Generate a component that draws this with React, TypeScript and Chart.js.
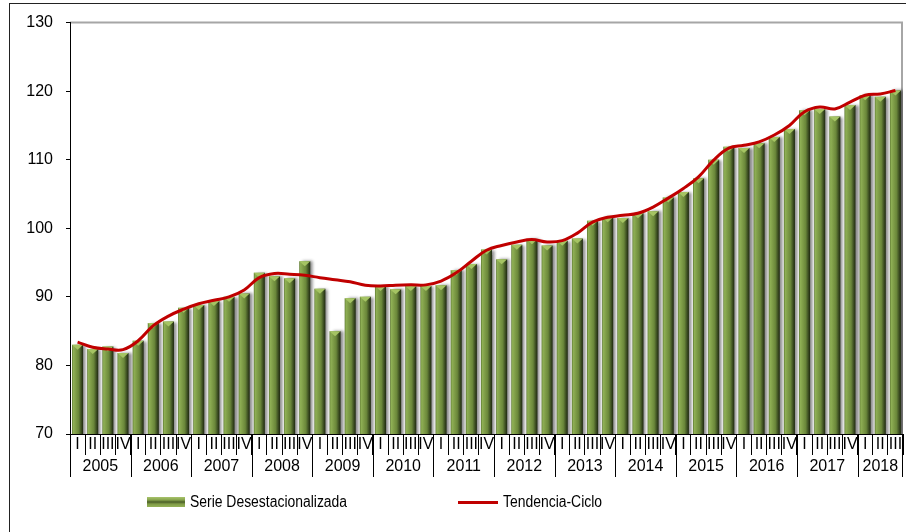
import React, { useEffect, useRef } from "react";
import { Chart, registerables } from "chart.js";

Chart.register(...registerables);

// ---- data ----
const years = ["2005", "2006", "2007", "2008", "2009", "2010", "2011", "2012", "2013", "2014", "2015", "2016", "2017", "2018"];
const quartersPerYear = [4, 4, 4, 4, 4, 4, 4, 4, 4, 4, 4, 4, 4, 3];
const quarterNames = ["I", "II", "III", "IV"];

const serieDesestacionalizada = [
  83.0, 82.4, 82.75, 81.8,
  83.6, 86.2, 86.4, 88.4,
  88.8, 89.4, 90.0, 90.5,
  93.5, 93.0, 92.7, 95.2,
  91.2, 85.0, 89.8, 90.0,
  91.6, 91.1, 91.6, 91.6,
  91.7, 93.9, 94.8, 96.9,
  95.5, 97.6, 98.4, 97.5,
  98.2, 98.5, 101.1, 101.6,
  101.5, 102.2, 102.5, 104.5,
  105.3, 107.3, 110.0, 111.9,
  111.7, 112.4, 113.3, 114.5,
  117.2, 117.4, 116.3, 118.0,
  119.4, 119.2, 120.1,
];

const tendenciaCiclo = [
  83.4, 82.65, 82.4, 82.3,
  83.6, 85.8, 87.2, 88.2,
  89.0, 89.5, 90.0, 91.0,
  92.8, 93.4, 93.3, 93.15,
  92.8, 92.5, 92.2, 91.7,
  91.6, 91.7, 91.75, 91.75,
  92.3, 93.5, 95.2, 96.8,
  97.5, 98.0, 98.35, 98.0,
  98.2, 99.3, 100.9, 101.6,
  101.9, 102.2, 103.1, 104.4,
  105.8, 107.5, 109.95, 111.7,
  112.1, 112.6, 113.6, 115.0,
  117.0, 117.7, 117.4, 118.4,
  119.4, 119.6, 120.1,
];

const yTickMin = 70;
const yTickMax = 130;
const yTickStep = 10;

const quarterLabels: string[] = [];
quartersPerYear.forEach((n) => {
  for (let q = 0; q < n; q++) quarterLabels.push(quarterNames[q]);
});

const FONT = '"Liberation Sans", Arial, sans-serif';

const frameAndYearsPlugin = {
  id: "frameAndYears",
  beforeDraw(chart: any) {
    const { ctx, chartArea } = chart;
    ctx.save();
    ctx.strokeStyle = "#a6a6a6";
    ctx.lineWidth = 2;
    ctx.beginPath();
    ctx.moveTo(chartArea.left, chartArea.top);
    ctx.lineTo(chartArea.right - 1, chartArea.top);
    ctx.lineTo(chartArea.right - 1, chartArea.bottom);
    ctx.stroke();
    ctx.restore();
  },
  beforeDatasetDraw(chart: any, args: any) {
    if (args.meta.type === "bar") {
      const ctx = chart.ctx;
      ctx.save();
      ctx.shadowColor = "rgba(0,0,0,0.45)";
      ctx.shadowBlur = 3;
      ctx.shadowOffsetX = 3;
      ctx.shadowOffsetY = 0;
    }
  },
  afterDatasetDraw(chart: any, args: any) {
    if (args.meta.type === "bar") {
      const ctx = chart.ctx;
      ctx.restore();
      ctx.save();
      ctx.fillStyle = "#a5c463";
      args.meta.data.forEach((bar: any) => {
        const { x, y, width } = bar.getProps(["x", "y", "width"], true);
        ctx.beginPath();
        ctx.moveTo(x - width / 2, y);
        ctx.lineTo(x + width / 2, y);
        ctx.lineTo(x, y + 5);
        ctx.closePath();
        ctx.fill();
      });
      ctx.restore();
    }
  },
  afterDraw(chart: any) {
    const { ctx, chartArea } = chart;
    const xs = chart.scales.x;
    const half = (xs.getPixelForValue(1) - xs.getPixelForValue(0)) / 2;
    const edge = (i: number) => xs.getPixelForValue(i) - half;
    const top = chartArea.bottom;
    ctx.save();
    ctx.strokeStyle = "#000";
    ctx.lineWidth = 1;
    ctx.fillStyle = "#000";
    ctx.font = `16px ${FONT}`;
    ctx.textAlign = "center";
    ctx.textBaseline = "middle";
    let idx = 0;
    const vline = (px: number) => {
      const xx = Math.round(px) + 0.5;
      ctx.beginPath();
      ctx.moveTo(xx, top);
      ctx.lineTo(xx, top + 43);
      ctx.stroke();
    };
    years.forEach((yr, k) => {
      const n = quartersPerYear[k];
      const l = edge(idx);
      const r = edge(idx + n);
      vline(l);
      ctx.fillText(yr, (l + r) / 2, top + 33);
      idx += n;
    });
    vline(edge(idx) - 1);
    ctx.restore();
  },
};

function barGradient(context: any) {
  const chart = context.chart;
  const xs = chart.scales && chart.scales.x;
  if (!xs || !chart.chartArea || context.dataIndex === undefined) return "#76923c";
  const cx = xs.getPixelForValue(context.dataIndex);
  const w = ((xs.getPixelForValue(1) - xs.getPixelForValue(0)) * 0.73) / 2;
  const g = chart.ctx.createLinearGradient(cx - w, 0, cx + w, 0);
  g.addColorStop(0, "#5a752e");
  g.addColorStop(0.12, "#8fb055");
  g.addColorStop(0.35, "#7e9c47");
  g.addColorStop(0.6, "#6a873a");
  g.addColorStop(0.82, "#3f5123");
  g.addColorStop(1, "#1e2810");
  return g;
}

export default function App() {
  const canvasRef = useRef<HTMLCanvasElement | null>(null);

  useEffect(() => {
    const canvas = canvasRef.current;
    if (!canvas) return;
    const chart = new Chart(canvas, {
      type: "bar",
      data: {
        labels: quarterLabels,
        datasets: [
          {
            type: "line",
            label: "Tendencia-Ciclo",
            data: tendenciaCiclo,
            borderColor: "#C00000",
            borderWidth: 3,
            pointRadius: 0,
            tension: 0.4,
            fill: false,
            order: 0,
          } as any,
          {
            type: "bar",
            label: "Serie Desestacionalizada",
            data: serieDesestacionalizada,
            backgroundColor: barGradient,
            borderWidth: 0,
            categoryPercentage: 1,
            barPercentage: 0.73,
            order: 1,
          } as any,
        ],
      },
      options: {
        responsive: false,
        animation: false,
        layout: { padding: { left: 0, right: 3, top: 20, bottom: 0 } },
        plugins: {
          legend: { display: false },
          tooltip: { enabled: false },
          title: { display: false },
        },
        scales: {
          x: {
            type: "category",
            offset: true,
            grid: {
              display: true,
              drawOnChartArea: false,
              offset: true,
              tickLength: 21,
              color: "#000",
              lineWidth: 1,
            },
            border: { display: true, color: "#000", width: 1 },
            ticks: {
              autoSkip: false,
              maxRotation: 0,
              minRotation: 0,
              padding: -20,
              color: "#000",
              font: { family: FONT, size: 16 },
            },
            afterFit: (scale: any) => {
              scale.height = 98;
            },
          },
          y: {
            min: yTickMin,
            max: yTickMax,
            grid: {
              display: true,
              drawOnChartArea: false,
              tickLength: 4,
              color: "#000",
              lineWidth: 1,
            },
            border: { display: true, color: "#000", width: 1 },
            ticks: {
              stepSize: yTickStep,
              padding: 13,
              color: "#000",
              font: { family: FONT, size: 16 },
            },
            afterFit: (scale: any) => {
              scale.width = 70;
            },
          },
        },
      },
      plugins: [frameAndYearsPlugin],
    });
    return () => chart.destroy();
  }, []);

  const legendText: React.CSSProperties = {
    position: "absolute",
    top: 492,
    height: 20,
    lineHeight: "20px",
    fontFamily: FONT,
    fontSize: 16,
    color: "#000",
    whiteSpace: "nowrap",
    transform: "scaleX(0.87)",
    transformOrigin: "left center",
  };

  return (
    <div
      style={{
        position: "fixed",
        left: 0,
        top: 0,
        width: 906,
        height: 532,
        overflow: "hidden",
        background: "#fff",
      }}
    >
      <div
        style={{
          position: "absolute",
          left: 9,
          top: 3,
          width: 1200,
          height: 1200,
          border: "1px solid #222",
        }}
      />
      <canvas
        ref={canvasRef}
        width={906}
        height={532}
        style={{ position: "absolute", left: 0, top: 0, width: 906, height: 532 }}
      />
      <div
        style={{
          position: "absolute",
          left: 147,
          top: 497,
          width: 38,
          height: 10,
          background:
            "linear-gradient(to bottom, #a9c46c 0%, #86a34c 30%, #4a5e28 50%, #7f9b46 70%, #95b257 100%)",
        }}
      />
      <div style={{ ...legendText, left: 190 }}>Serie Desestacionalizada</div>
      <div
        style={{
          position: "absolute",
          left: 458,
          top: 501,
          width: 40,
          height: 3,
          background: "#C00000",
        }}
      />
      <div style={{ ...legendText, left: 503 }}>Tendencia-Ciclo</div>
    </div>
  );
}
